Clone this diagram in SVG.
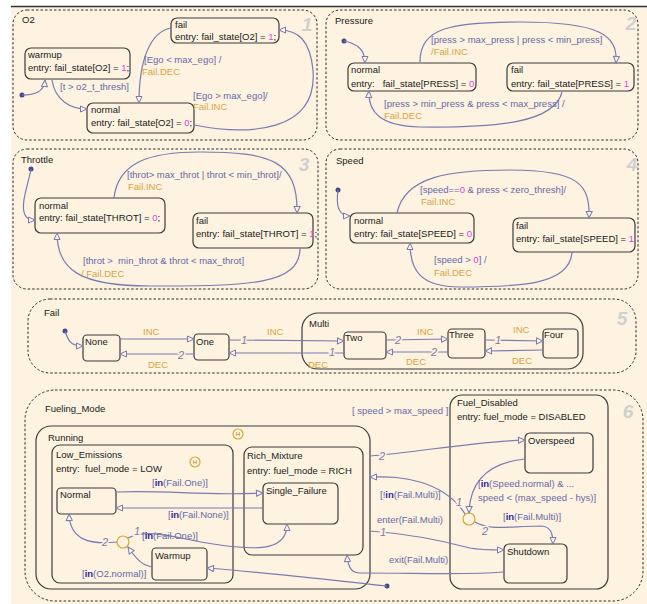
<svg xmlns="http://www.w3.org/2000/svg" width="647" height="604" viewBox="0 0 647 604">
<defs>
<style>
.bg{fill:#fdf3e0}
.ch{fill:none;stroke:#2e2e2e;stroke-width:1;stroke-dasharray:2.5 2}
.st{fill:none;stroke:#3c3c3c;stroke-width:1.2}
.tr{fill:none;stroke:#7a7ab2;stroke-width:1.2}
.ar{marker-end:url(#ah)}
.t{font-family:"Liberation Sans",Arial,sans-serif;font-size:9.5px;fill:#1a1a1a}
.g{fill:#6868a8}
.a{fill:#d9a33e}
.m{fill:#e03fe0}
.k{font-weight:bold;fill:#2c2ca0}
.n{font-family:"Liberation Sans",Arial,sans-serif;font-size:11px;font-style:italic;fill:#7a7aa6;stroke:#fdf3e0;stroke-width:3;paint-order:stroke}
.big{font-family:"Liberation Sans",Arial,sans-serif;font-size:19px;font-weight:bold;font-style:italic;fill:#d0d0d0;text-anchor:middle}
.dot{fill:#474790}
.j{fill:#fdf3e0;stroke:#d8a830;stroke-width:1.2}
.h{font-family:"Liberation Sans",Arial,sans-serif;font-size:6px;fill:#a07820;text-anchor:middle}
</style>
<marker id="ah" markerWidth="9" markerHeight="8" refX="8" refY="4" orient="auto" markerUnits="userSpaceOnUse"><path d="M1.5,1 L8,4 L1.5,7 Z" fill="#fdf3e0" stroke="#7a7ab2" stroke-width="1"/></marker>
</defs>
<rect width="647" height="604" fill="#ffffff"/>
<rect class="bg" x="11" y="6" width="636" height="598"/>
<line x1="11" y1="6.5" x2="647" y2="6.5" stroke="#333" stroke-width="1.5"/>

<!-- Chart O2 -->
<g id="chart-O2">
<rect class="ch" x="13" y="10" width="304" height="130" rx="14"/>
<text class="t" x="22" y="23">O2</text>
<text class="big" x="307" y="31">1</text>
</g>
<g id="O2-warmup">
<rect class="st" x="25" y="48" width="105" height="31" rx="6"/>
<text class="t" x="28" y="58">warmup</text>
<text class="t" x="28" y="71">entry: fail_state[O2] = <tspan class="m">1</tspan>;</text>
</g>
<g id="O2-fail">
<rect class="st" x="171" y="18" width="108" height="25" rx="6"/>
<text class="t" x="175" y="28">fail</text>
<text class="t" x="175" y="40">entry: fail_state[O2] = <tspan class="m">1</tspan>;</text>
</g>
<g id="O2-normal">
<rect class="st" x="87" y="103" width="107" height="30" rx="6"/>
<text class="t" x="91" y="113">normal</text>
<text class="t" x="91" y="126">entry: fail_state[O2] = <tspan class="m">0</tspan>;</text>
</g>

<!-- Chart Pressure -->
<g id="chart-Pressure">
<rect class="ch" x="326" y="10" width="312" height="130" rx="14"/>
<text class="t" x="335" y="24">Pressure</text>
<text class="big" x="631" y="30">2</text>
</g>
<g id="Pressure-normal">
<rect class="st" x="348" y="63" width="128" height="28" rx="6"/>
<text class="t" x="351" y="73">normal</text>
<text class="t" x="351" y="87" xml:space="preserve">entry:   fail_state[PRESS] = <tspan class="m">0</tspan></text>
</g>
<g id="Pressure-fail">
<rect class="st" x="507" y="63" width="127" height="28" rx="6"/>
<text class="t" x="511" y="73">fail</text>
<text class="t" x="511" y="87">entry: fail_state[PRESS] = <tspan class="m">1</tspan></text>
</g>

<!-- Chart Throttle -->
<g id="chart-Throttle">
<rect class="ch" x="13" y="149" width="305" height="140" rx="14"/>
<text class="t" x="21" y="163">Throttle</text>
<text class="big" x="304" y="171">3</text>
</g>
<g id="Throttle-normal">
<rect class="st" x="35" y="198" width="130" height="35" rx="6"/>
<text class="t" x="39" y="209">normal</text>
<text class="t" x="39" y="221">entry: fail_state[THROT] = <tspan class="m">0</tspan>;</text>
</g>
<g id="Throttle-fail">
<rect class="st" x="193" y="213" width="120" height="35" rx="6"/>
<text class="t" x="196" y="224">fail</text>
<text class="t" x="196" y="237">entry: fail_state[THROT] = <tspan class="m">1</tspan>;</text>
</g>

<!-- Chart Speed -->
<g id="chart-Speed">
<rect class="ch" x="326" y="149" width="312" height="140" rx="14"/>
<text class="t" x="336" y="164">Speed</text>
<text class="big" x="632" y="171">4</text>
</g>
<g id="Speed-normal">
<rect class="st" x="350" y="213" width="124" height="30" rx="6"/>
<text class="t" x="354" y="224">normal</text>
<text class="t" x="354" y="237">entry: fail_state[SPEED] = <tspan class="m">0</tspan></text>
</g>
<g id="Speed-fail">
<rect class="st" x="513" y="218" width="122" height="34" rx="6"/>
<text class="t" x="516" y="229">fail</text>
<text class="t" x="516" y="242">entry: fail_state[SPEED] = <tspan class="m">1</tspan></text>
</g>

<!-- Chart Fail -->
<g id="chart-Fail">
<rect class="ch" x="28" y="299" width="608" height="74" rx="22"/>
<text class="t" x="44" y="316">Fail</text>
<text class="big" x="622" y="325">5</text>
</g>
<g id="Fail-None">
<rect class="st" x="83" y="335" width="37" height="26" rx="4"/>
<text class="t" x="85" y="345">None</text>
</g>
<g id="Fail-One">
<rect class="st" x="194" y="334" width="35" height="26" rx="4"/>
<text class="t" x="196" y="345">One</text>
</g>
<g id="Fail-Multi">
<rect class="st" x="302" y="313" width="281" height="56" rx="16"/>
<text class="t" x="309" y="327">Multi</text>
</g>
<g id="Fail-Two">
<rect class="st" x="344" y="332" width="42" height="27" rx="4"/>
<text class="t" x="345" y="341">Two</text>
</g>
<g id="Fail-Three">
<rect class="st" x="448" y="329" width="37" height="29" rx="4"/>
<text class="t" x="449" y="338">Three</text>
</g>
<g id="Fail-Four">
<rect class="st" x="543" y="329" width="35" height="29" rx="4"/>
<text class="t" x="544" y="338">Four</text>
</g>

<!-- Chart Fueling_Mode -->
<g id="chart-Fueling_Mode">
<rect class="ch" x="25" y="390" width="618" height="211" rx="30"/>
<text class="t" x="45" y="412">Fueling_Mode</text>
<text class="big" x="628" y="418">6</text>
</g>
<g id="Running">
<rect class="st" x="36" y="426" width="334" height="163" rx="15"/>
<text class="t" x="48" y="441">Running</text>
<circle class="j" cx="238" cy="434" r="5"/>
<text class="h" x="238" y="436">H</text>
</g>
<g id="Low_Emissions">
<rect class="st" x="52" y="445" width="181" height="138" rx="8"/>
<text class="t" x="56" y="458">Low_Emissions</text>
<text class="t" x="56" y="472" xml:space="preserve">entry:  fuel_mode = LOW</text>
<circle class="j" cx="195" cy="462" r="5"/>
<text class="h" x="195" y="464">H</text>
</g>
<g id="Normal">
<rect class="st" x="57" y="488" width="59" height="26" rx="4"/>
<text class="t" x="60" y="498">Normal</text>
</g>
<g id="Warmup">
<rect class="st" x="152" y="548" width="55" height="32" rx="4"/>
<text class="t" x="155" y="559">Warmup</text>
</g>
<g id="Rich_Mixture">
<rect class="st" x="244" y="447" width="119" height="108" rx="8"/>
<text class="t" x="247" y="459">Rich_Mixture</text>
<text class="t" x="247" y="474">entry: fuel_mode = RICH</text>
</g>
<g id="Single_Failure">
<rect class="st" x="263" y="483" width="75" height="41" rx="5"/>
<text class="t" x="266" y="494">Single_Failure</text>
</g>
<g id="Fuel_Disabled">
<rect class="st" x="450" y="395" width="158" height="194" rx="12"/>
<text class="t" x="457" y="406">Fuel_Disabled</text>
<text class="t" x="457" y="420">entry: fuel_mode = DISABLED</text>
</g>
<g id="Overspeed">
<rect class="st" x="525" y="433" width="68" height="40" rx="5"/>
<text class="t" x="528" y="444">Overspeed</text>
</g>
<g id="Shutdown">
<rect class="st" x="504" y="544" width="63" height="39" rx="5"/>
<text class="t" x="507" y="555">Shutdown</text>
</g>
<g id="junctions">
<circle class="j" cx="123" cy="542" r="6"/>
<circle class="j" cx="469" cy="519" r="6"/>
</g>

<g id="connectors">
<!-- O2 -->
<circle class="dot" cx="22" cy="95" r="2.5"/>
<path class="tr ar" d="M22,95 C35,95 44,92 45,80"/>
<path class="tr ar" d="M52,80 C55,100 70,109 87,109"/>
<path class="tr ar" d="M171,28 C150,32 139,60 139,103"/>
<path class="tr ar" d="M194,125 C250,136 318,132 313,70 C310,40 298,30 279,30"/>
<!-- Pressure -->
<circle class="dot" cx="344" cy="41" r="2.5"/>
<path class="tr ar" d="M344,41 C358,44 365,50 365,63"/>
<path class="tr ar" d="M420,62 C420,28 450,22 520,22 C600,22 618,35 616,63"/>
<path class="tr ar" d="M562,92 C555,122 500,128 420,127 C380,126 368,112 369,91"/>
<!-- Throttle -->
<circle class="dot" cx="31" cy="169" r="2.5"/>
<path class="tr ar" d="M31,169 C28,185 20,205 25,215 C27,219 30,220 35,220"/>
<path class="tr ar" d="M114,198 C118,162 150,152 200,152 C270,152 298,160 297,213"/>
<path class="tr ar" d="M300,248 C300,285 250,286 150,286 C80,286 57,270 57,233"/>
<!-- Speed -->
<circle class="dot" cx="338" cy="190" r="2.5"/>
<path class="tr ar" d="M338,190 C336,205 338,216 350,216"/>
<path class="tr ar" d="M397,213 C405,176 450,170 510,170 C580,170 590,185 589,218"/>
<path class="tr ar" d="M572,252 C570,285 520,287 460,287 C420,287 410,270 410,243"/>
<!-- Fail -->
<circle class="dot" cx="65" cy="331" r="2.5"/>
<path class="tr ar" d="M65,331 C68,340 70,346 83,346"/>
<path class="tr ar" d="M120,339 L194,339"/>
<path class="tr ar" d="M194,354 L120,354"/>
<path class="tr ar" d="M229,340 L344,341"/>
<path class="tr ar" d="M344,353 L229,353"/>
<path class="tr ar" d="M386,340 L448,339"/>
<path class="tr ar" d="M448,352 L386,352"/>
<path class="tr ar" d="M485,340 L543,341"/>
<path class="tr ar" d="M543,350 L485,351"/>
<!-- Fueling_Mode -->
<path class="tr ar" d="M116,492 C170,490 200,496 263,493"/>
<path class="tr ar" d="M263,508 L116,508"/>
<path class="tr ar" d="M128,538 C150,527 180,540 220,545 C262,551 287,549 287,524"/>
<path class="tr ar" d="M117,542 C90,545 70,540 69,514"/>
<path class="tr ar" d="M152,567 C142,565 137,560 128,547"/>
<circle class="dot" cx="387" cy="586" r="2.5"/>
<path class="tr ar" d="M387,586 C330,580 260,572 207,568"/>
<path class="tr ar" d="M370,456 C420,452 470,442 525,440"/>
<path class="tr ar" d="M465,514 C455,498 440,488 420,482 C400,476 385,477 370,477"/>
<path class="tr ar" d="M525,459 C495,462 470,476 469,513"/>
<path class="tr ar" d="M475,522 C490,530 500,527 540,526 C550,526 553,532 553,544"/>
<path class="tr ar" d="M370,531 C410,534 440,540 470,548 C480,550 490,550 504,550"/>
<path class="tr ar" d="M504,572 C470,575 420,573 360,573 C352,573 348,568 347,555"/>
</g>

<g id="labels">
<!-- O2 -->
<text class="t g" x="60" y="90">[t &gt; o2_t_thresh]</text>
<text class="t g" x="144" y="63">[Ego &lt; max_ego] /</text>
<text class="t a" x="142" y="75">Fail.DEC</text>
<text class="t g" x="193" y="99">[Ego &gt; max_ego]/</text>
<text class="t a" x="193" y="110">Fail.INC</text>
<!-- Pressure -->
<text class="t g" x="431" y="43">[press &gt; max_press | press &lt; min_press]</text>
<text class="t a" x="431" y="55">/Fail.INC</text>
<text class="t g" x="384" y="107">[press &gt; min_press &amp; press &lt; max_press] /</text>
<text class="t a" x="384" y="119">Fail.DEC</text>
<!-- Throttle -->
<text class="t g" x="127" y="178">[throt&gt; max_throt | throt &lt; min_throt]/</text>
<text class="t a" x="128" y="190">Fail.INC</text>
<text class="t g" x="83" y="264" xml:space="preserve">[throt &gt;  min_throt &amp; throt &lt; max_throt]</text>
<text class="t a" x="81" y="277">/ Fail.DEC</text>
<!-- Speed -->
<text class="t g" x="420" y="193">[speed==<tspan class="m">0</tspan> &amp; press &lt; zero_thresh]/</text>
<text class="t a" x="421" y="205">Fail.INC</text>
<text class="t g" x="434" y="263">[speed &gt; <tspan class="m">0</tspan>] /</text>
<text class="t a" x="434" y="276">Fail.DEC</text>
<!-- Fail -->
<text class="t a" x="143" y="335">INC</text>
<text class="t a" x="148" y="368">DEC</text>
<text class="n" x="178" y="359">2</text>
<text class="n" x="241" y="344">1</text>
<text class="t a" x="267" y="335">INC</text>
<text class="n" x="329" y="356">1</text>
<text class="t a" x="308" y="368">DEC</text>
<text class="n" x="395" y="344">2</text>
<text class="t a" x="417" y="335">INC</text>
<text class="n" x="431" y="356">2</text>
<text class="t a" x="406" y="365">DEC</text>
<text class="n" x="495" y="344">1</text>
<text class="t a" x="513" y="333">INC</text>
<text class="t a" x="512" y="364">DEC</text>
<!-- Fueling_Mode -->
<text class="t g" x="152" y="486">[<tspan class="k">in</tspan>(Fail.One)]</text>
<text class="t g" x="168" y="518">[<tspan class="k">in</tspan>(Fail.None)]</text>
<text class="n" x="134" y="535">1</text>
<text class="t g" x="142" y="539">[<tspan class="k">in</tspan>(Fail.One)]</text>
<text class="n" x="102" y="546">2</text>
<text class="t g" x="82" y="577">[<tspan class="k">in</tspan>(O2.normal)]</text>
<text class="t g" x="352" y="414" xml:space="preserve">[ speed &gt; max_speed ]</text>
<text class="n" x="379" y="460">2</text>
<text class="t g" x="380" y="498">[!<tspan class="k">in</tspan>(Fail.Multi)]</text>
<text class="n" x="456" y="506">1</text>
<text class="t g" x="478" y="487">[<tspan class="k">in</tspan>(Speed.normal) &amp; ...</text>
<text class="t g" x="478" y="501">speed &lt; (max_speed - hys)]</text>
<text class="t g" x="503" y="520">[<tspan class="k">in</tspan>(Fail.Multi)]</text>
<text class="n" x="482" y="535">2</text>
<text class="t g" x="377" y="523">enter(Fail.Multi)</text>
<text class="n" x="380" y="536">1</text>
<text class="t g" x="389" y="563">exit(Fail.Multi)</text>
</g>
</svg>
